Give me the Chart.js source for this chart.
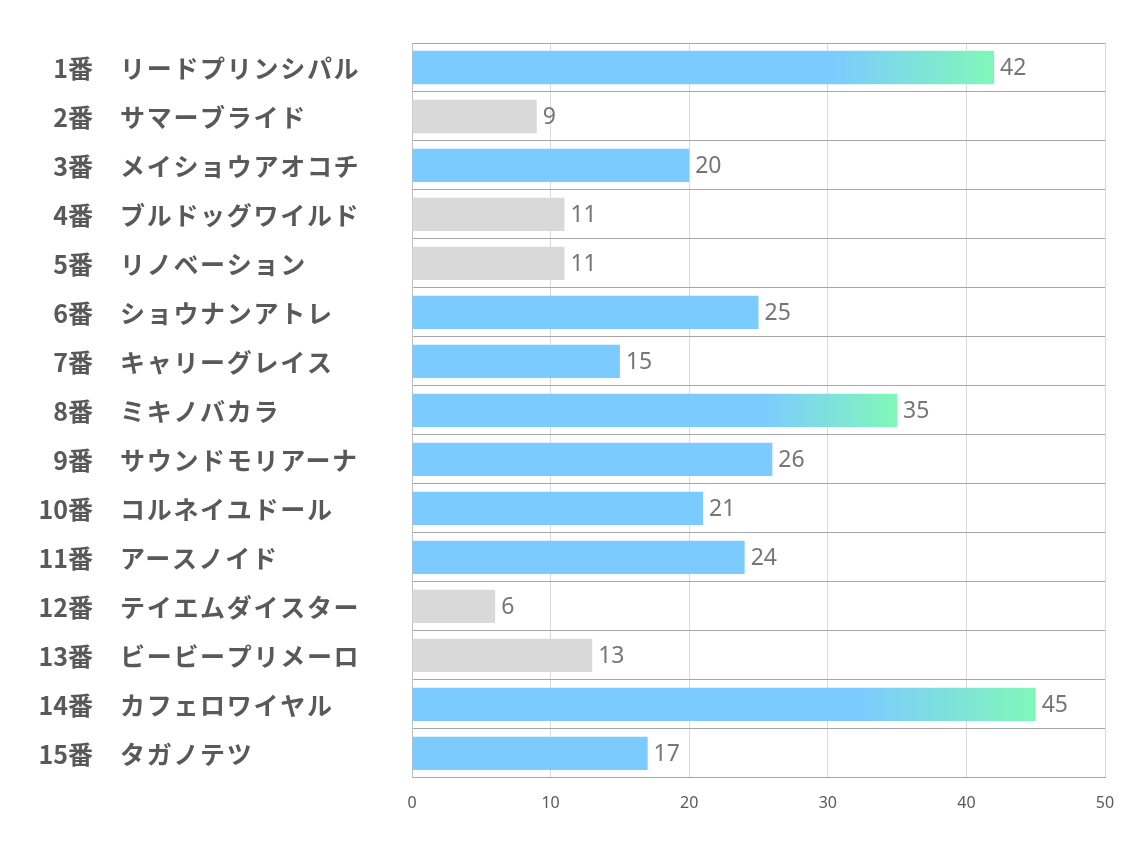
<!DOCTYPE html>
<html>
<head>
<meta charset="utf-8">
<script src="https://cdn.jsdelivr.net/npm/chart.js@4"></script>
<style>
  body { margin: 0; background: #fff; }
  canvas { display: block; }
</style>
</head>
<body>
<canvas id="chart" width="1134" height="850"></canvas>
<script>
// data
const numbers = ['1番', '2番', '3番', '4番', '5番', '6番', '7番', '8番', '9番', '10番', '11番', '12番', '13番', '14番', '15番']
const names = ['リードプリンシパル', 'サマーブライド', 'メイショウアオコチ', 'ブルドッグワイルド', 'リノベーション',
  'ショウナンアトレ', 'キャリーグレイス', 'ミキノバカラ', 'サウンドモリアーナ', 'コルネイユドール',
  'アースノイド', 'テイエムダイスター', 'ビービープリメーロ', 'カフェロワイヤル', 'タガノテツ']
const values = [42, 9, 20, 11, 11, 25, 15, 35, 26, 21, 24, 6, 13, 45, 17]
const xTicks = [0, 10, 20, 30, 40, 50]

const BLUE = '#7ccbff'
const GREEN = '#80f7b9'
const GREY = '#d9d9d9'

const barColor = (c) => {
    const v = values[c.dataIndex]
    if (v < 14) return GREY
    if (v < 30) return BLUE
    const chart = c.chart
    if (!chart.chartArea || !chart.scales.x) return BLUE
    const x0 = chart.scales.x.getPixelForValue(0)
    const x1 = chart.scales.x.getPixelForValue(v)
    const g = chart.ctx.createLinearGradient(x0, 0, x1, 0)
    g.addColorStop(0, BLUE)
    g.addColorStop(0.72, BLUE)
    g.addColorStop(1, GREEN)
    return g
}

// row labels: number right aligned, horse name left aligned
const rowLabels = {
    id: 'rowLabels',
    afterDraw(chart) {
        const ctx = chart.ctx
        const y = chart.scales.y
        ctx.save()
        ctx.fillStyle = '#595959'
        ctx.textBaseline = 'middle'
        numbers.forEach((n, i) => {
            const py = y.getPixelForValue(i) + 1
            ctx.font = 'bold 25px "Noto Sans CJK JP"'
            ctx.letterSpacing = '0px'
            ctx.textAlign = 'right'
            ctx.fillText(n, 93, py)
            ctx.letterSpacing = '1.7px'
            ctx.textAlign = 'left'
            ctx.fillText(names[i], 120, py)
        })
        ctx.restore()
    }
}

// value next to each bar
const valueLabels = {
    id: 'valueLabels',
    afterDatasetsDraw(chart) {
        const ctx = chart.ctx
        const meta = chart.getDatasetMeta(0)
        ctx.save()
        ctx.font = '23px "Noto Sans"'
        ctx.fillStyle = '#767676'
        ctx.textAlign = 'left'
        ctx.textBaseline = 'middle'
        meta.data.forEach((bar, i) => {
            ctx.fillText(String(values[i]), bar.x + 6, bar.y + 1)
        })
        ctx.restore()
    }
}

let chart = new Chart(document.getElementById('chart'), {
    type: 'bar',
    data: {
        labels: numbers.map((n, i) => n + '　' + names[i]),
        datasets: [{
            data: values,
            backgroundColor: barColor,
            borderWidth: 0,
            categoryPercentage: 1,
            barPercentage: 0.68
        }]
    },
    options: {
        indexAxis: 'y',
        responsive: false,
        animation: false,
        layout: { padding: { left: 412, top: 43, right: 29, bottom: 21 } },
        plugins: {
            legend: { display: false },
            tooltip: { enabled: false }
        },
        scales: {
            x: {
                min: 0,
                max: 50,
                afterBuildTicks: (s) => { s.ticks = xTicks.map(v => ({ value: v })) },
                grid: { color: '#d9d9d9', drawTicks: false },
                border: { color: '#a6a6a6' },
                ticks: {
                    padding: 16,
                    color: '#595959',
                    font: { family: '"Noto Sans"', size: 16 }
                }
            },
            y: {
                grid: { color: '#a6a6a6', drawTicks: false, offset: true },
                border: { color: '#bfbfbf' },
                ticks: { display: false }
            }
        }
    },
    plugins: [rowLabels, valueLabels]
})
</script>
</body>
</html>
